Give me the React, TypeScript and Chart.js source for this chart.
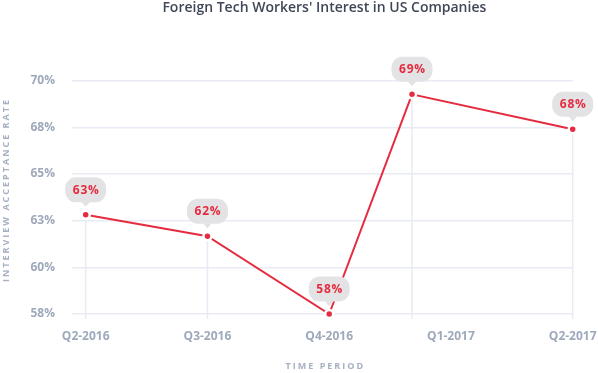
import React, { useEffect, useRef } from 'react';
import { Chart, registerables } from 'chart.js';

Chart.register(...registerables);

const categories = ['Q2-2016', 'Q3-2016', 'Q4-2016', 'Q1-2017', 'Q2-2017'];
// position of each point along the period axis (in label units)
const periodPosition = [0, 1, 2, 2.68, 4];
const acceptanceRate = [63.1, 62.0, 58.0, 69.3, 67.5];
const yMin = 58;
const yMax = 70;
const yTickCount = 6;
const chartTitle = "Foreign Tech Workers' Interest in US Companies";
const yTitle = 'INTERVIEW ACCEPTANCE RATE';
const xTitle = 'TIME PERIOD';

const RED = '#e52b3f';
const TICK = '#9ea9bb';
const GRID = '#e8ebf3';

const overlay = {
  id: 'overlay',
  beforeDatasetsDraw(chart: any) {
    const { ctx, chartArea } = chart;
    const meta = chart.getDatasetMeta(0);
    ctx.save();
    ctx.strokeStyle = GRID;
    ctx.lineWidth = 1.5;
    meta.data.forEach((p: any) => {
      ctx.beginPath();
      ctx.moveTo(p.x, p.y);
      ctx.lineTo(p.x, chartArea.bottom + 5);
      ctx.stroke();
    });
    ctx.restore();
  },
  afterDatasetsDraw(chart: any) {
    const { ctx } = chart;
    const meta = chart.getDatasetMeta(0);
    ctx.save();
    meta.data.forEach((p: any, i: number) => {
      const w = 41;
      const h = 25;
      const bottom = p.y - 12.5;
      const top = bottom - h;
      ctx.fillStyle = '#e3e3e5';
      ctx.beginPath();
      (ctx as any).roundRect(p.x - w / 2, top, w, h, 11);
      ctx.fill();
      ctx.beginPath();
      ctx.moveTo(p.x - 4.5, bottom - 0.5);
      ctx.lineTo(p.x + 4.5, bottom - 0.5);
      ctx.lineTo(p.x, bottom + 4.5);
      ctx.closePath();
      ctx.fill();
      ctx.fillStyle = RED;
      ctx.font = 'bold 12px "Open Sans"';
      (ctx as any).letterSpacing = '0.8px';
      ctx.textAlign = 'center';
      ctx.textBaseline = 'middle';
      ctx.fillText(Math.round(acceptanceRate[i]) + '%', p.x + 0.5, top + h / 2 + 0.5);
      (ctx as any).letterSpacing = '0px';
    });
    ctx.restore();
  },
  afterDraw(chart: any) {
    const { ctx, chartArea } = chart;
    const cx = (chartArea.left + chartArea.right) / 2;
    ctx.save();
    ctx.textAlign = 'center';
    ctx.textBaseline = 'middle';
    ctx.fillStyle = '#3f4757';
    ctx.font = '600 14px "Open Sans"';
    ctx.fillText(chartTitle, cx + 2, 8);

    ctx.fillStyle = '#a5b0c2';
    ctx.font = 'bold 9px "Open Sans"';
    (ctx as any).letterSpacing = '2px';
    ctx.fillText(xTitle, cx + 3, 366);

    ctx.translate(6, 190);
    ctx.rotate(-Math.PI / 2);
    ctx.fillText(yTitle, 0, 0);
    (ctx as any).letterSpacing = '0px';
    ctx.restore();
  },
};

export default function App() {
  const ref = useRef<HTMLCanvasElement>(null);
  useEffect(() => {
    document.body.style.margin = '0';
    const chart = new Chart(ref.current as HTMLCanvasElement, {
      type: 'line',
      data: {
        datasets: [
          {
            data: acceptanceRate.map((v, i) => ({ x: periodPosition[i], y: v })),
            borderColor: RED,
            borderWidth: 2,
            pointRadius: 4,
            pointBackgroundColor: RED,
            pointBorderColor: '#ffffff',
            pointBorderWidth: 2.5,
            tension: 0,
            clip: false as any,
          },
        ],
      },
      options: {
        responsive: false,
        animation: false,
        layout: { padding: { top: 80.7, right: 25.3, left: 0, bottom: 0 } },
        plugins: {
          legend: { display: false },
          tooltip: { enabled: false },
        },
        scales: {
          x: {
            type: 'linear',
            min: -0.1125,
            max: 4,
            afterBuildTicks: (s: any) => {
              s.ticks = categories.map((_, i) => ({ value: i }));
            },
            afterFit: (s: any) => {
              s.height = 59;
              s.paddingLeft = 0;
              s.paddingRight = 0;
            },
            ticks: {
              autoSkip: false,
              maxRotation: 0,
              padding: 15,
              color: TICK,
              font: { family: '"Open Sans"', size: 12, weight: 'bold' },
              callback: (v: any) => categories[Math.round(Number(v))] ?? '',
            },
            grid: { display: false, drawTicks: false },
            border: { display: false },
          },
          y: {
            min: yMin,
            max: yMax,
            afterFit: (s: any) => {
              s.width = 72;
              s.paddingTop = 0;
              s.paddingBottom = 0;
            },
            ticks: {
              count: yTickCount,
              padding: 17,
              color: TICK,
              font: { family: '"Open Sans"', size: 12, weight: 'bold' },
              callback: (v: any) => Math.round(Number(v)) + '%',
            },
            grid: { color: GRID, lineWidth: 1.5, drawTicks: false },
            border: { display: false },
          },
        },
      } as any,
      plugins: [overlay],
    });
    return () => chart.destroy();
  }, []);
  return (
    <div style={{ width: 598, height: 373 }}>
      <canvas ref={ref} width={598} height={373} />
    </div>
  );
}
